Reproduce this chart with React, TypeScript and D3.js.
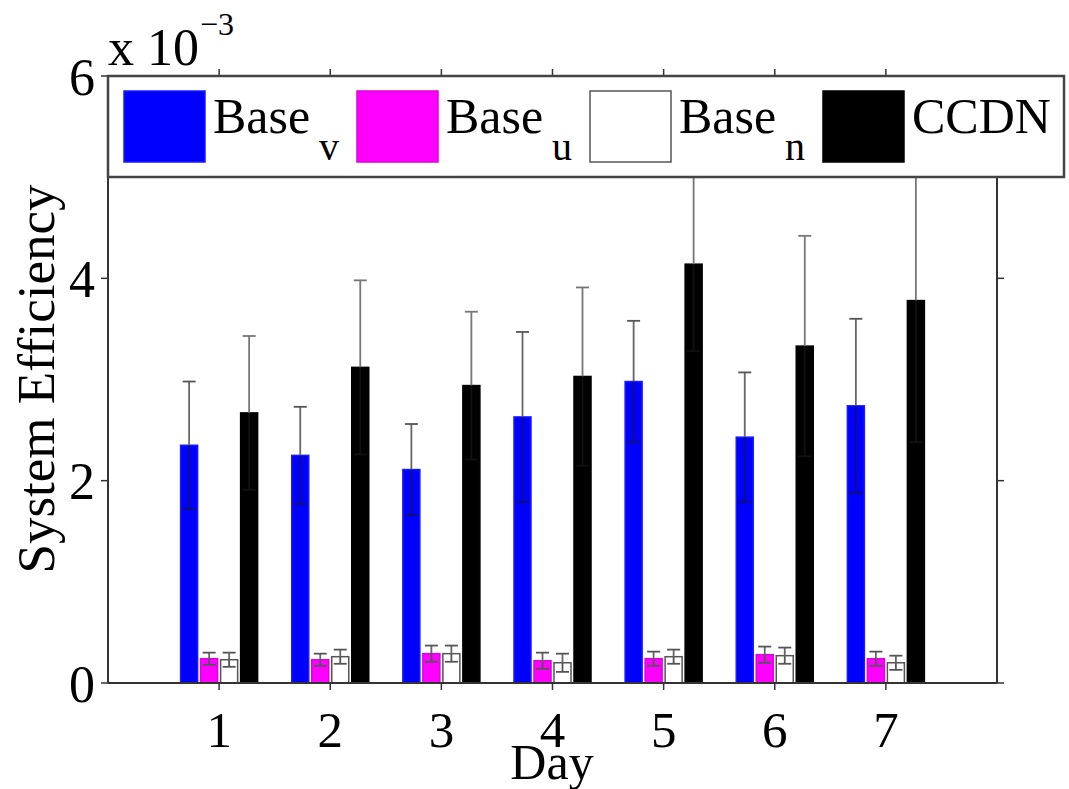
import React from "react";
import * as d3 from "d3";

const days = [1, 2, 3, 4, 5, 6, 7];
const seriesNames = ["Base_v", "Base_u", "Base_n", "CCDN"];
const legendMain = ["Base", "Base", "Base", "CCDN"];
const legendSub = ["v", "u", "n", ""];
const baseV = [2.35, 2.25, 2.11, 2.63, 2.98, 2.43, 2.74];
const baseVErr = [0.63, 0.48, 0.45, 0.84, 0.60, 0.64, 0.86];
const baseU = [0.24, 0.23, 0.29, 0.22, 0.24, 0.28, 0.24];
const baseUErr = [0.06, 0.06, 0.08, 0.08, 0.07, 0.08, 0.07];
const baseN = [0.23, 0.26, 0.29, 0.2, 0.26, 0.27, 0.2];
const baseNErr = [0.07, 0.07, 0.08, 0.09, 0.07, 0.08, 0.07];
const ccdn = [2.67, 3.12, 2.94, 3.03, 4.14, 3.33, 3.78];
const ccdnErr = [0.76, 0.86, 0.73, 0.88, 0.86, 1.09, 1.4];
const yTicks = [0, 2, 4, 6];

const fills = ["#0000ff", "#ff00ff", "#ffffff", "#000000"];
const strokes = ["#1a1aff", "#e000e0", "#555555", "#000000"];

export default function App() {
  const W = 1069, H = 789;
  const left = 108, right = 997, top = 76, bottom = 683;
  const x = d3.scaleLinear().domain([0, 8]).range([left, right]);
  const y = d3.scaleLinear().domain([0, 6]).range([bottom, top]);
  const inner = d3.scaleBand<string>().domain(seriesNames).range([-0.36, 0.36]).paddingInner(0.15).paddingOuter(0.075);
  const unit = x(1) - x(0);
  const bw = inner.bandwidth() * unit;
  const vals = [baseV, baseU, baseN, ccdn];
  const errs = [baseVErr, baseUErr, baseNErr, ccdnErr];
  const font = "'Liberation Serif', 'Times New Roman', serif";
  const axisColor = "#333";
  const legTop = 76, legBottom = 177, legLeft = 108, legRight = 1064;
  const swatchX = [124, 357, 590, 823];

  return (
    <svg width={W} height={H} style={{ position: "absolute", left: 0, top: 0, background: "#fff" }} fontFamily={font}>
      <rect x={0} y={0} width={W} height={H} fill="#fff" />
      {/* bars */}
      {seriesNames.map((s, si) =>
        days.map((d, di) => {
          const cx = x(d) + ((inner(s) as number) + inner.bandwidth() / 2) * unit;
          const v = vals[si][di];
          return (
            <rect key={s + d} x={cx - bw / 2} y={y(v)} width={bw} height={y(0) - y(v)}
              fill={fills[si]} stroke={strokes[si]} strokeWidth={1.5} />
          );
        })
      )}
      {/* error bars */}
      {seriesNames.map((s, si) =>
        days.map((d, di) => {
          const cx = x(d) + ((inner(s) as number) + inner.bandwidth() / 2) * unit;
          const v = vals[si][di];
          const e = errs[si][di];
          const y1 = y(v + e), y0 = y(Math.max(0, v - e));
          const capW = 6.5;
          const col = si === 0 ? "#101070" : "#555";
          return (
            <g key={"e" + s + d} stroke={si === 3 ? "#777" : "#555"} strokeWidth={1.8}>
              <line x1={cx} x2={cx} y1={y1} y2={y(v)} stroke={si === 3 ? "#777" : "#666"} />
              <line x1={cx} x2={cx} y1={y(v)} y2={y0} stroke={si === 3 ? "#111" : col} />
              <line x1={cx - capW} x2={cx + capW} y1={y1} y2={y1} />
              <line x1={cx - capW} x2={cx + capW} y1={y0} y2={y0} stroke={si === 3 ? "#111" : col} />
            </g>
          );
        })
      )}
      {/* axes */}
      <line x1={left} x2={right} y1={bottom} y2={bottom} stroke={axisColor} strokeWidth={2} />
      <line x1={left} x2={left} y1={top} y2={bottom} stroke={axisColor} strokeWidth={2} />
      <line x1={right} x2={right} y1={top} y2={bottom} stroke={axisColor} strokeWidth={2} />
      <line x1={left} x2={right} y1={top} y2={top} stroke={axisColor} strokeWidth={2} />
      {days.map((d) => (
        <g key={"xt" + d}>
          <line x1={x(d)} x2={x(d)} y1={bottom} y2={bottom + 7} stroke={axisColor} strokeWidth={1.5} />
          <line x1={x(d)} x2={x(d)} y1={top} y2={top - 7} stroke={axisColor} strokeWidth={1.5} />
          <text x={x(d)} y={747} fontSize={51} textAnchor="middle" fill="#000">{d}</text>
        </g>
      ))}
      {yTicks.map((t) => (
        <g key={"yt" + t}>
          <line x1={left} x2={left - 7} y1={y(t)} y2={y(t)} stroke={axisColor} strokeWidth={1.5} />
          <line x1={right} x2={right + 7} y1={y(t)} y2={y(t)} stroke={axisColor} strokeWidth={1.5} />
          <text x={95} y={y(t)} dy="0.36em" fontSize={52} textAnchor="end" fill="#000">{t}</text>
        </g>
      ))}
      {/* exponent */}
      <text x={108} y={65} fontSize={52} fill="#000">x 10</text>
      <text x={200} y={35} fontSize={32} fill="#000">−3</text>
      {/* axis labels */}
      <text x={552} y={779} fontSize={50} textAnchor="middle" fill="#000">Day</text>
      <text transform={`translate(54,379) rotate(-90)`} fontSize={53} textAnchor="middle" fill="#000">System Efficiency</text>
      {/* legend */}
      <rect x={legLeft} y={legTop} width={legRight - legLeft} height={legBottom - legTop} fill="#fff" stroke="#444" strokeWidth={2.5} />
      {seriesNames.map((s, i) => (
        <g key={"lg" + s}>
          <rect x={swatchX[i]} y={91} width={81} height={71} fill={fills[i]} stroke={strokes[i]} strokeWidth={1.5} />
          <text x={swatchX[i] + 89} y={133} fontSize={50} fill="#000">{legendMain[i]}</text>
          {legendSub[i] && (
            <text x={swatchX[i] + 195} y={160} fontSize={40} fill="#000">{legendSub[i]}</text>
          )}
        </g>
      ))}
    </svg>
  );
}
